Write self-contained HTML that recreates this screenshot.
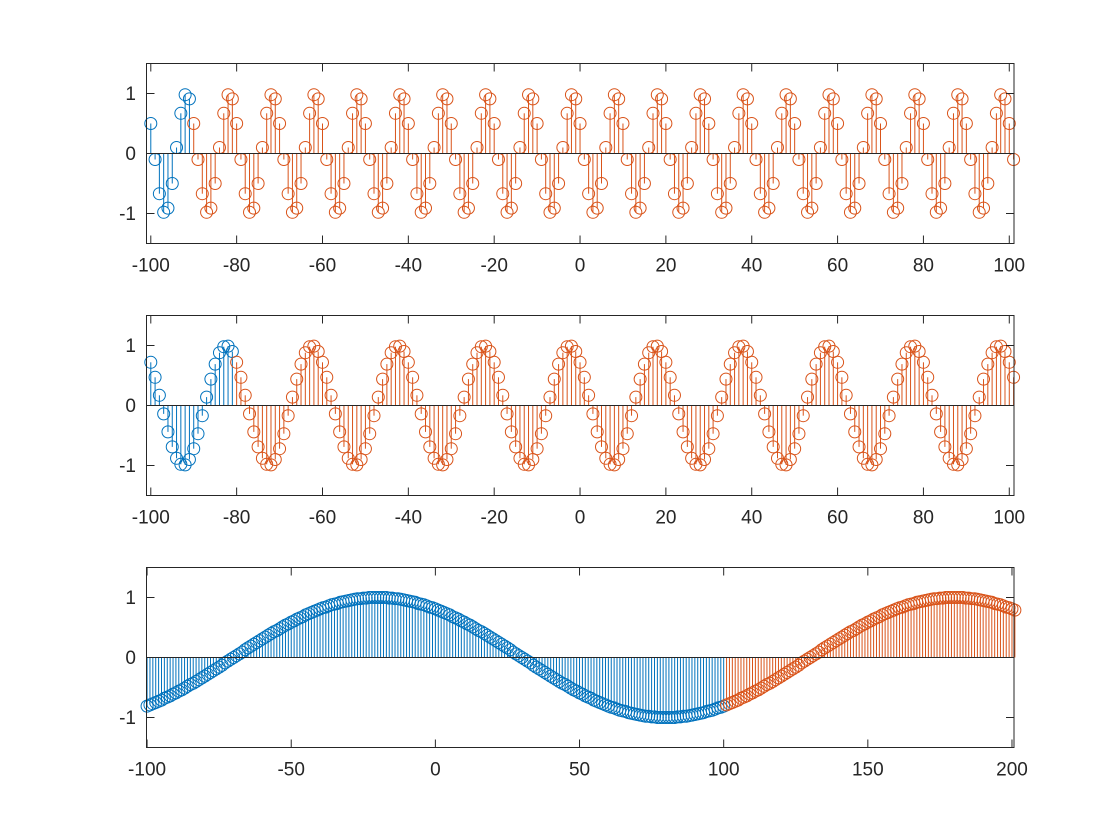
<!DOCTYPE html>
<html><head><meta charset="utf-8"><style>
html,body{margin:0;padding:0;background:#fff;}
svg{display:block;font-family:"Liberation Sans",Arial,sans-serif;}
</style></head><body>
<svg id="fig" width="1120" height="840" viewBox="0 0 1120 840" xmlns="http://www.w3.org/2000/svg"></svg>
<script>
// ---------- data ----------
const p1BlueStart = -100;
const p1BlueValues = [0.50,-0.10,-0.67,-0.98,-0.91,-0.50,0.10,0.67,0.98,0.91];
const p1OrangeStart = -90;
const p1OrangeValues = [
0.50,-0.10,-0.67,-0.98,-0.91,-0.50,0.10,0.67,0.98,0.91,
0.50,-0.10,-0.67,-0.98,-0.91,-0.50,0.10,0.67,0.98,0.91,
0.50,-0.10,-0.67,-0.98,-0.91,-0.50,0.10,0.67,0.98,0.91,
0.50,-0.10,-0.67,-0.98,-0.91,-0.50,0.10,0.67,0.98,0.91,
0.50,-0.10,-0.67,-0.98,-0.91,-0.50,0.10,0.67,0.98,0.91,
0.50,-0.10,-0.67,-0.98,-0.91,-0.50,0.10,0.67,0.98,0.91,
0.50,-0.10,-0.67,-0.98,-0.91,-0.50,0.10,0.67,0.98,0.91,
0.50,-0.10,-0.67,-0.98,-0.91,-0.50,0.10,0.67,0.98,0.91,
0.50,-0.10,-0.67,-0.98,-0.91,-0.50,0.10,0.67,0.98,0.91,
0.50,-0.10,-0.67,-0.98,-0.91,-0.50,0.10,0.67,0.98,0.91,
0.50,-0.10,-0.67,-0.98,-0.91,-0.50,0.10,0.67,0.98,0.91,
0.50,-0.10,-0.67,-0.98,-0.91,-0.50,0.10,0.67,0.98,0.91,
0.50,-0.10,-0.67,-0.98,-0.91,-0.50,0.10,0.67,0.98,0.91,
0.50,-0.10,-0.67,-0.98,-0.91,-0.50,0.10,0.67,0.98,0.91,
0.50,-0.10,-0.67,-0.98,-0.91,-0.50,0.10,0.67,0.98,0.91,
0.50,-0.10,-0.67,-0.98,-0.91,-0.50,0.10,0.67,0.98,0.91,
0.50,-0.10,-0.67,-0.98,-0.91,-0.50,0.10,0.67,0.98,0.91,
0.50,-0.10,-0.67,-0.98,-0.91,-0.50,0.10,0.67,0.98,0.91,
0.50,-0.10,-0.67,-0.98,-0.91,-0.50,0.10,0.67,0.98,0.91,
0.50,-0.10];
const p1XTicks = [-100,-80,-60,-40,-20,0,20,40,60,80,100];

const p2BlueStart = -100;
const p2BlueValues = [0.72,0.47,0.17,-0.14,-0.44,-0.69,-0.88,-0.98,-0.99,-0.90,-0.72,-0.47,-0.17,0.14,0.44,0.69,0.88,0.98,0.99,0.90];
const p2OrangeStart = -80;
const p2OrangeValues = [
0.72,0.47,0.17,-0.14,-0.44,-0.69,-0.88,-0.98,-0.99,-0.90,-0.72,-0.47,-0.17,0.14,0.44,0.69,0.88,0.98,0.99,0.90,
0.72,0.47,0.17,-0.14,-0.44,-0.69,-0.88,-0.98,-0.99,-0.90,-0.72,-0.47,-0.17,0.14,0.44,0.69,0.88,0.98,0.99,0.90,
0.72,0.47,0.17,-0.14,-0.44,-0.69,-0.88,-0.98,-0.99,-0.90,-0.72,-0.47,-0.17,0.14,0.44,0.69,0.88,0.98,0.99,0.90,
0.72,0.47,0.17,-0.14,-0.44,-0.69,-0.88,-0.98,-0.99,-0.90,-0.72,-0.47,-0.17,0.14,0.44,0.69,0.88,0.98,0.99,0.90,
0.72,0.47,0.17,-0.14,-0.44,-0.69,-0.88,-0.98,-0.99,-0.90,-0.72,-0.47,-0.17,0.14,0.44,0.69,0.88,0.98,0.99,0.90,
0.72,0.47,0.17,-0.14,-0.44,-0.69,-0.88,-0.98,-0.99,-0.90,-0.72,-0.47,-0.17,0.14,0.44,0.69,0.88,0.98,0.99,0.90,
0.72,0.47,0.17,-0.14,-0.44,-0.69,-0.88,-0.98,-0.99,-0.90,-0.72,-0.47,-0.17,0.14,0.44,0.69,0.88,0.98,0.99,0.90,
0.72,0.47,0.17,-0.14,-0.44,-0.69,-0.88,-0.98,-0.99,-0.90,-0.72,-0.47,-0.17,0.14,0.44,0.69,0.88,0.98,0.99,0.90,
0.72,0.47,0.17,-0.14,-0.44,-0.69,-0.88,-0.98,-0.99,-0.90,-0.72,-0.47,-0.17,0.14,0.44,0.69,0.88,0.98,0.99,0.90,
0.72,0.47];
const p2XTicks = [-100,-80,-60,-40,-20,0,20,40,60,80,100];

const p3BlueStart = -100;
const p3BlueValues = [
-0.81,-0.79,-0.77,-0.75,-0.73,-0.71,-0.68,-0.66,-0.64,-0.61,-0.59,-0.56,-0.54,-0.51,-0.48,-0.45,-0.43,-0.40,-0.37,-0.34,
-0.31,-0.28,-0.25,-0.22,-0.19,-0.16,-0.13,-0.09,-0.06,-0.03,0,0.03,0.06,0.09,0.13,0.16,0.19,0.22,0.25,0.28,
0.31,0.34,0.37,0.40,0.43,0.45,0.48,0.51,0.54,0.56,0.59,0.61,0.64,0.66,0.68,0.71,0.73,0.75,0.77,0.79,
0.81,0.83,0.84,0.86,0.88,0.89,0.90,0.92,0.93,0.94,0.95,0.96,0.97,0.98,0.98,0.99,0.99,1.00,1.00,1.00,
1.00,1.00,1.00,1.00,0.99,0.99,0.98,0.98,0.97,0.96,0.95,0.94,0.93,0.92,0.90,0.89,0.88,0.86,0.84,0.83,
0.81,0.79,0.77,0.75,0.73,0.71,0.68,0.66,0.64,0.61,0.59,0.56,0.54,0.51,0.48,0.45,0.43,0.40,0.37,0.34,
0.31,0.28,0.25,0.22,0.19,0.16,0.13,0.09,0.06,0.03,0,-0.03,-0.06,-0.09,-0.13,-0.16,-0.19,-0.22,-0.25,-0.28,
-0.31,-0.34,-0.37,-0.40,-0.43,-0.45,-0.48,-0.51,-0.54,-0.56,-0.59,-0.61,-0.64,-0.66,-0.68,-0.71,-0.73,-0.75,-0.77,-0.79,
-0.81,-0.83,-0.84,-0.86,-0.88,-0.89,-0.90,-0.92,-0.93,-0.94,-0.95,-0.96,-0.97,-0.98,-0.98,-0.99,-0.99,-1.00,-1.00,-1.00,
-1.00,-1.00,-1.00,-1.00,-0.99,-0.99,-0.98,-0.98,-0.97,-0.96,-0.95,-0.94,-0.93,-0.92,-0.90,-0.89,-0.88,-0.86,-0.84,-0.83,
-0.81];
const p3OrangeStart = 101;
const p3OrangeValues = [
-0.79,-0.77,-0.75,-0.73,-0.71,-0.68,-0.66,-0.64,-0.61,-0.59,-0.56,-0.54,-0.51,-0.48,-0.45,-0.43,-0.40,-0.37,-0.34,-0.31,
-0.28,-0.25,-0.22,-0.19,-0.16,-0.13,-0.09,-0.06,-0.03,0,0.03,0.06,0.09,0.13,0.16,0.19,0.22,0.25,0.28,0.31,
0.34,0.37,0.40,0.43,0.45,0.48,0.51,0.54,0.56,0.59,0.61,0.64,0.66,0.68,0.71,0.73,0.75,0.77,0.79,0.81,
0.83,0.84,0.86,0.88,0.89,0.90,0.92,0.93,0.94,0.95,0.96,0.97,0.98,0.98,0.99,0.99,1.00,1.00,1.00,1.00,
1.00,1.00,1.00,0.99,0.99,0.98,0.98,0.97,0.96,0.95,0.94,0.93,0.92,0.90,0.89,0.88,0.86,0.84,0.83,0.81,
0.79];
const p3XTicks = [-100,-50,0,50,100,150,200];
const yTicks = [-1,0,1];

// ---------- drawing ----------
const NS = 'http://www.w3.org/2000/svg';
const svg = document.getElementById('fig');
const BLUE = '#0072BD', ORANGE = '#D95319', AX = '#262626';
function mk(tag, attrs, parent) {
  const e = document.createElementNS(NS, tag);
  for (const k in attrs) e.setAttribute(k, attrs[k]);
  parent.appendChild(e);
  return e;
}

function drawAxes(idx, top, xmin, xmax, xTicks, series) {
  const left = 146.5, right = 1014, bottom = top + 180;
  const ymin = -1.5, ymax = 1.5;
  const xs = v => left + (v - xmin) / (xmax - xmin) * (right - left);
  const ys = v => bottom - (v - ymin) / (ymax - ymin) * (bottom - top);
  const g = mk('g', {}, svg);
  
  

  series.forEach(s => {
    const sg = mk('g', {stroke: s.color, fill: 'none', 'stroke-width': 1}, g);
    
    
    s.values.forEach((v, i) => {
      const x = xs(s.start + i);
      const ln = mk('line', {x1: x, x2: x, y1: ys(0), y2: ys(v)}, sg);
      
      
    });
    s.values.forEach((v, i) => {
      const c = mk('circle', {cx: xs(s.start + i), cy: ys(v), r: 6}, sg);
      
      
    });
  });

  const base = mk('line', {x1: left, x2: right, y1: ys(0), y2: ys(0), stroke: AX, 'stroke-width': 1}, g);
  
  

  const box = mk('rect', {x: left, y: top, width: right - left, height: bottom - top, fill: 'none', stroke: AX, 'stroke-width': 1}, g);
  
  

  xTicks.forEach(t => {
    const x = xs(t);
    mk('line', {x1: x, x2: x, y1: bottom, y2: bottom - 8, stroke: AX}, g);
    mk('line', {x1: x, x2: x, y1: top, y2: top + 8, stroke: AX}, g);
    const tx = mk('text', {x: x, y: bottom + 28, 'text-anchor': 'middle', 'font-size': 19, fill: AX}, g);
    tx.textContent = String(t);
    
    
  });
  yTicks.forEach(t => {
    const y = ys(t);
    mk('line', {x1: left, x2: left + 8, y1: y, y2: y, stroke: AX}, g);
    mk('line', {x1: right, x2: right - 8, y1: y, y2: y, stroke: AX}, g);
    const ty = mk('text', {x: 136, y: y + 6.5, 'text-anchor': 'end', 'font-size': 19, fill: AX}, g);
    ty.textContent = String(t);
    
    
  });
}

drawAxes(1, 63.5, -101, 101.1, p1XTicks, [
  {name: 'blue', color: BLUE, start: p1BlueStart, values: p1BlueValues},
  {name: 'orange', color: ORANGE, start: p1OrangeStart, values: p1OrangeValues}]);
drawAxes(2, 315.5, -101, 101.1, p2XTicks, [
  {name: 'blue', color: BLUE, start: p2BlueStart, values: p2BlueValues},
  {name: 'orange', color: ORANGE, start: p2OrangeStart, values: p2OrangeValues}]);
drawAxes(3, 567.5, -100.2, 200.7, p3XTicks, [
  {name: 'blue', color: BLUE, start: p3BlueStart, values: p3BlueValues},
  {name: 'orange', color: ORANGE, start: p3OrangeStart, values: p3OrangeValues}]);
</script>
</body></html>
